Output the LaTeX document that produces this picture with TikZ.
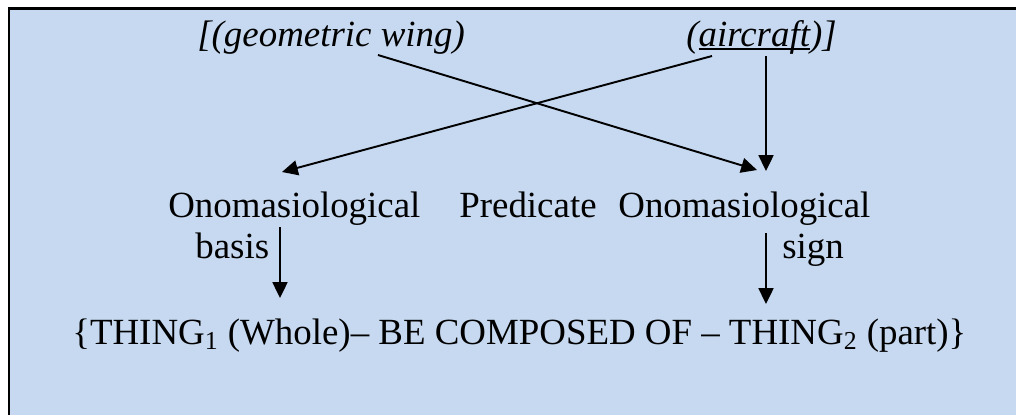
\documentclass[tikz,border=0pt]{standalone}
\usepackage{fontspec}
\setmainfont{Liberation Serif}
\usepackage{xcolor}
\usetikzlibrary{arrows.meta}
\definecolor{color_fond}{rgb}{0.776471,0.850980,0.941176}
\definecolor{color_trait}{rgb}{0,0,0}
\newcommand{\souligne}[1]{\setbox0\hbox{#1}\rlap{\rule[-2.1pt]{\wd0}{0.85pt}}\box0}

\begin{document}
\begin{tikzpicture}[x=0.02cm, y=-0.02cm,
		mot/.style={inner sep=0pt, anchor=base west, font=\fontsize{21}{24}\selectfont},
		fleche/.style={color_trait, line width=1.1pt, -{Triangle[length=9pt, width=8.5pt]}}]
			\useasboundingbox (0,0) rectangle (1016,414);
			% Fond bleu et cadre
			\fill[color_fond] (9,8.5) rectangle (1030,430);
			\draw[color_trait, line width=1.4pt] (9,430) -- (9,8.5) -- (1030,8.5);
			
			% Ligne du haut
			\node[mot] (wing) at (197,46) {\itshape [(geometric wing)};
			\node[mot] (aircraft) at (686,46) {\itshape (\souligne{aircraft})]};
			
			% Ligne du milieu
			\node[mot] (onomaG) at (168,217) {Onomasiological};
			\node[mot] (predicate) at (459,217) {Predicate};
			\node[mot] (onomaD) at (618,217) {Onomasiological};
			\node[mot] (basis) at (195,258) {basis};
			\node[mot] (sign) at (782,258) {sign};
			
			% Formule
			\node[mot] (formule) at (72,344) {\{THING\textsubscript{1} (Whole)-- BE COMPOSED OF -- THING\textsubscript{2} (part)\}};
			
			% Points des fleches
			\coordinate (wingD) at (378,55);
			\coordinate (signH) at (757,170);
			\coordinate (aircraftG) at (712,56);
			\coordinate (basisH) at (282,172);
			\coordinate (aircraftB) at (766,56);
			\coordinate (signH2) at (766,171);
			\coordinate (basisD) at (280,227);
			\coordinate (formuleG) at (280,298);
			\coordinate (signD) at (766,233);
			\coordinate (formuleD) at (766,304);
			
			% Fleches
			\draw[fleche] (wingD) -- (signH);
			\draw[fleche] (aircraftG) -- (basisH);
			\draw[fleche] (aircraftB) -- (signH2);
			\draw[fleche] (basisD) -- (formuleG);
			\draw[fleche] (signD) -- (formuleD);
		\end{tikzpicture}
\end{document}
